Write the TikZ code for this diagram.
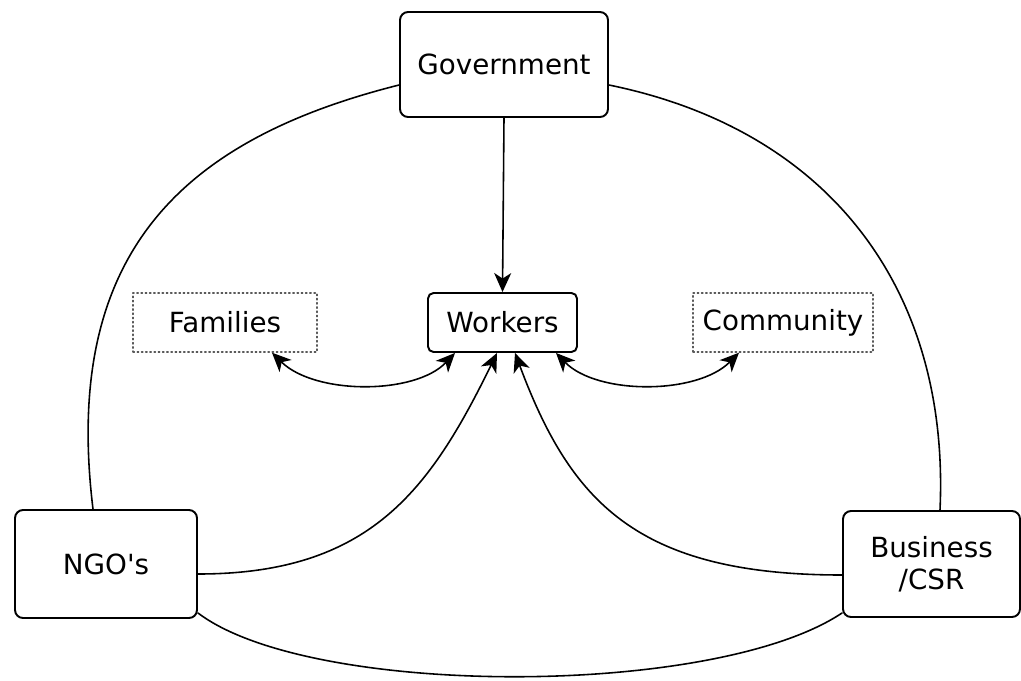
\documentclass[tikz,border=0pt]{standalone}
\usepackage{fontspec}
\setmainfont{DejaVu Sans}
\usetikzlibrary{arrows.meta,calc}

\tikzset{
	box/.style={draw,line width=1.1pt,rounded corners=1.6mm,align=center,inner sep=0pt},
	dotbox/.style={draw=black!65,dash pattern=on 0.8pt off 1.6pt,line width=0.8pt,inner sep=0pt},
	link/.style={line width=0.9pt},
	tip/.style={-{Stealth[length=3.8mm,width=3.4mm,inset=1.1mm]}},
	tips/.style={{Stealth[length=3.8mm,width=3.4mm,inset=1.1mm]}-{Stealth[length=3.8mm,width=3.4mm,inset=1.1mm]}}
}

\begin{document}
\begin{tikzpicture}[x=0.02cm,y=-0.02cm,line join=round,line cap=round,font=\fontsize{15.8}{18}\selectfont]
	\useasboundingbox (0,0) rectangle (1021,680);
	\node[box,minimum width=4.16cm,minimum height=2.1cm] (gov) at (504,64.5) {Government};
	\node[box,rounded corners=1.1mm,minimum width=2.98cm,minimum height=1.18cm] (work) at (502.5,322.5) {Workers};
	\node[dotbox,minimum width=3.68cm,minimum height=1.18cm] (fam) at (225,322.5) {Families};
	\node[dotbox,minimum width=3.6cm,minimum height=1.18cm] (comm) at (783,322.5) {Community};
	\node[box,minimum width=3.64cm,minimum height=2.16cm] (ngo) at (106,564) {NGO\textquotesingle{}s};
	\node[box,minimum width=3.54cm,minimum height=2.12cm] (bus) at (931.5,564) {Business\\/CSR};
	
	\draw[link,tip] (gov.south) -- (work.north);
	\draw[link,tips] ($(fam.south)+(47,0)$) .. controls (315,395) and (415,395) .. ($(work.south)+(-47.5,0)$);
	\draw[link,tips] ($(work.south)+(53.5,0)$) .. controls (597,395) and (697,395) .. ($(comm.south)+(-44,0)$);
	\draw[link,tip] ($(ngo.east)+(0,10)$) .. controls (370,574) and (430,490) .. ($(work.south)+(-5.5,0)$);
	\draw[link,tip] ($(bus.west)+(0,11)$) .. controls (635,575) and (570,500) .. ($(work.south)+(12.5,0)$);
	
	\draw[link] ($(gov.west)+(0,20.5)$) .. controls (180,140) and (62,255) .. ($(ngo.north)+(-13,0)$);
	\draw[link] ($(gov.east)+(0,20.5)$) .. controls (830,130) and (950,290) .. ($(bus.north)+(8.5,0)$);
	\draw[link] ($(ngo.south east)+(0,-6)$) .. controls (310,698) and (715,698) .. ($(bus.south west)+(0,-5)$);
\end{tikzpicture}
\end{document}
